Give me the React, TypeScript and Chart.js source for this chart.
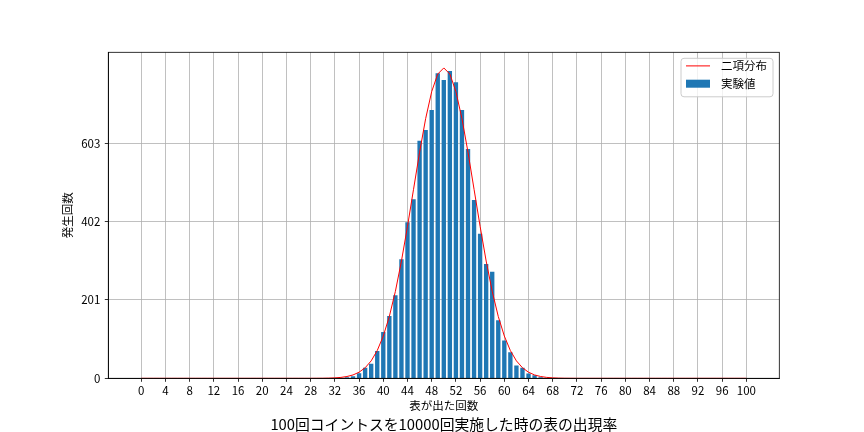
import React, { useEffect, useRef } from "react";
import { Chart, registerables } from "chart.js";

Chart.register(...registerables);

const FONT = "'Noto Sans CJK JP', 'Noto Sans', sans-serif";

// 表が出た回数 0..100 に対する実験値（10000回試行の発生回数）
const OBSERVED_COUNTS: number[] = [
  0, 0, 0, 0, 0, 0, 0, 0, 0, 0,
  0, 0, 0, 0, 0, 0, 0, 0, 0, 0,
  0, 0, 0, 0, 0, 0, 0, 0, 0, 0,
  0, 0, 1, 1, 3, 5, 13, 27, 37, 70,
  119, 160, 213, 305, 400, 459, 609, 637, 688, 782,
  765, 788, 759, 688, 588, 457, 371, 293, 273, 149,
  97, 67, 33, 27, 12, 8, 3, 1, 1, 0,
  0, 0, 0, 0, 0, 0, 0, 0, 0, 0,
  0, 0, 0, 0, 0, 0, 0, 0, 0, 0,
  0, 0, 0, 0, 0, 0, 0, 0, 0, 0,
  0,
];

// 二項分布による期待回数
const BINOMIAL_EXPECTED: number[] = [
  0, 0, 0, 0, 0, 0, 0, 0, 0, 0,
  0, 0, 0, 0, 0, 0, 0, 0, 0, 0,
  0, 0, 0, 0, 0, 0, 0, 0, 0, 0.1,
  0.2, 0.5, 1.1, 2.3, 4.6, 8.6, 15.6, 27.0, 44.7, 71.1,
  108.4, 158.7, 222.9, 300.7, 389.5, 484.7, 579.6, 665.9, 735.3, 780.3,
  795.9,
  780.3, 735.3, 665.9, 579.6, 484.7, 389.5, 300.7, 222.9, 158.7, 108.4,
  71.1, 44.7, 27.0, 15.6, 8.6, 4.6, 2.3, 1.1, 0.5, 0.2,
  0.1, 0, 0, 0, 0, 0, 0, 0, 0, 0,
  0, 0, 0, 0, 0, 0, 0, 0, 0, 0,
  0, 0, 0, 0, 0, 0, 0, 0, 0, 0,
];

const X_TICKS: number[] = [0, 4, 8, 12, 16, 20, 24, 28, 32, 36, 40, 44, 48, 52, 56, 60, 64, 68, 72, 76, 80, 84, 88, 92, 96, 100];
const Y_TICKS: number[] = [0, 201, 402, 603];

const LINE_LABEL = "二項分布";
const BAR_LABEL = "実験値";
const X_TITLE = "表が出た回数";
const Y_TITLE = "発生回数";
const CHART_TITLE = "100回コイントスを10000回実施した時の表の出現率";

const frameAndLegend = {
  id: "frameAndLegend",
  afterDatasetsDraw(chart: any) {
    const { ctx, chartArea } = chart;
    ctx.save();
    ctx.strokeStyle = "#000";
    ctx.lineWidth = 0.8;
    ctx.strokeRect(chartArea.left, chartArea.top, chartArea.right - chartArea.left, chartArea.bottom - chartArea.top);
    ctx.restore();
  },
  afterDraw(chart: any) {
    const { ctx, chartArea } = chart;
    const ds = chart.data.datasets;
    ctx.save();
    ctx.font = `11.5px ${FONT}`;
    const textW = Math.max(...ds.map((d: any) => ctx.measureText(d.label).width));
    const w = 40 + textW + 6;
    const h = 38.5;
    const x = chartArea.right - 6.3 - w;
    const y = chartArea.top + 6;
    const r = 3;
    ctx.beginPath();
    ctx.moveTo(x + r, y);
    ctx.lineTo(x + w - r, y);
    ctx.quadraticCurveTo(x + w, y, x + w, y + r);
    ctx.lineTo(x + w, y + h - r);
    ctx.quadraticCurveTo(x + w, y + h, x + w - r, y + h);
    ctx.lineTo(x + r, y + h);
    ctx.quadraticCurveTo(x, y + h, x, y + h - r);
    ctx.lineTo(x, y + r);
    ctx.quadraticCurveTo(x, y, x + r, y);
    ctx.closePath();
    ctx.fillStyle = "rgba(255,255,255,0.8)";
    ctx.fill();
    ctx.strokeStyle = "#cccccc";
    ctx.lineWidth = 1;
    ctx.stroke();

    ds.forEach((d: any, i: number) => {
      const cy = y + 7.6 + i * 17.8;
      if (d.type === "line") {
        ctx.strokeStyle = d.borderColor;
        ctx.lineWidth = 1;
        ctx.beginPath();
        ctx.moveTo(x + 5, cy);
        ctx.lineTo(x + 29, cy);
        ctx.stroke();
      } else {
        ctx.fillStyle = d.backgroundColor;
        ctx.fillRect(x + 5, cy - 4, 24, 8);
      }
      ctx.fillStyle = "#000";
      ctx.textAlign = "left";
      ctx.textBaseline = "middle";
      ctx.fillText(d.label, x + 40, cy);
    });
    ctx.restore();
  },
};

export default function App() {
  const ref = useRef<HTMLCanvasElement>(null);

  useEffect(() => {
    if (!ref.current) return;
    Chart.defaults.font.family = FONT;
    const chart = new Chart(ref.current, {
      type: "bar",
      data: {
        datasets: [
          {
            type: "line",
            label: LINE_LABEL,
            data: BINOMIAL_EXPECTED.map((v, i) => ({ x: i, y: v })),
            borderColor: "#ff0000",
            backgroundColor: "#ff0000",
            borderWidth: 1,
            pointRadius: 0,
            tension: 0,
            fill: false,
          } as any,
          {
            type: "bar",
            label: BAR_LABEL,
            data: OBSERVED_COUNTS.map((v, i) => ({ x: i, y: v })),
            backgroundColor: "#1f77b4",
            borderWidth: 0,
            barPercentage: 0.72,
            categoryPercentage: 1,
          } as any,
        ],
      },
      options: {
        animation: false,
        responsive: true,
        maintainAspectRatio: false,
        layout: { padding: { left: 56.5, right: 84.7, top: 52.3, bottom: 0 } },
        plugins: {
          legend: { display: false },
          tooltip: { enabled: false },
          title: {
            display: true,
            position: "bottom",
            fullSize: false,
            text: CHART_TITLE,
            color: "#000",
            font: { size: 14.8, lineHeight: 1, weight: "normal", family: FONT },
            padding: { top: 3.2, bottom: 0 },
          },
        },
        scales: {
          x: {
            type: "linear",
            min: -5.44,
            max: 105.44,
            offset: false,
            afterBuildTicks: (s: any) => {
              s.ticks = X_TICKS.map((v) => ({ value: v }));
            },
            afterFit: (s: any) => {
              s.height = 35.7;
            },
            ticks: {
              color: "#000",
              font: { size: 11.5 },
              padding: 1.5,
              autoSkip: false,
              maxRotation: 0,
              callback: (v: any) => String(v),
            },
            grid: {
              offset: false,
              color: "#b0b0b0",
              lineWidth: 0.8,
              tickColor: "#000",
              tickLength: 3.5,
              tickWidth: 0.8,
            },
            border: { color: "#000", width: 0.8 },
            title: {
              display: true,
              text: X_TITLE,
              color: "#000",
              font: { size: 11.5, lineHeight: 1.2 },
              padding: { top: 0, bottom: 1.5 },
            },
          },
          y: {
            type: "linear",
            min: 0,
            max: 836,
            afterBuildTicks: (s: any) => {
              s.ticks = Y_TICKS.map((v) => ({ value: v }));
            },
            afterFit: (s: any) => {
              s.width = 51.8;
            },
            ticks: {
              color: "#000",
              font: { size: 11.5 },
              padding: 4.5,
              callback: (v: any) => String(v),
            },
            grid: {
              color: "#b0b0b0",
              lineWidth: 0.8,
              tickColor: "#000",
              tickLength: 3.5,
              tickWidth: 0.8,
            },
            border: { color: "#000", width: 0.8 },
            title: {
              display: true,
              text: Y_TITLE,
              color: "#000",
              font: { size: 11.5, lineHeight: 1.2 },
              padding: { top: 4.5, bottom: 0 },
            },
          },
        },
      },
      plugins: [frameAndLegend],
    } as any);
    return () => chart.destroy();
  }, []);

  return (
    <div style={{ position: "absolute", left: 0, top: 0, width: 864, height: 432 }}>
      <canvas ref={ref} />
    </div>
  );
}
